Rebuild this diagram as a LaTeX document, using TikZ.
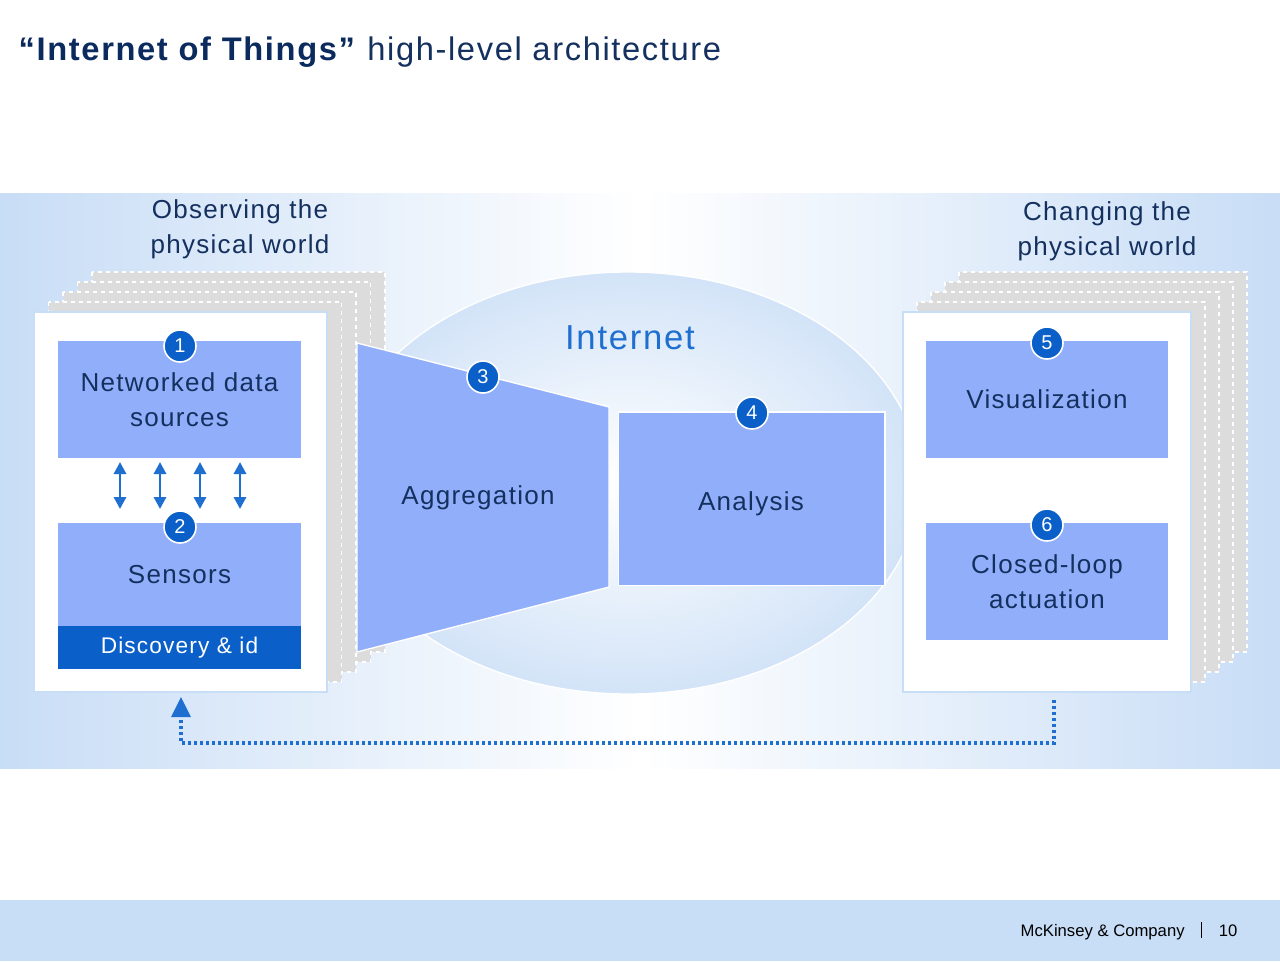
\documentclass[tikz,border=0pt]{standalone}
\usepackage{fontspec}
\setmainfont{Liberation Sans}[LetterSpace=5]
\newfontfamily\plainsans{Liberation Sans}
\usetikzlibrary{arrows.meta,shapes.geometric}
\definecolor{boxblue}{HTML}{91AEFB}
\definecolor{dkblue}{HTML}{0A5FC8}
\definecolor{midblue}{HTML}{1F6FD0}
\definecolor{txtblue}{HTML}{14305E}
\definecolor{bandblue}{HTML}{C8DDF6}
\definecolor{titleblue}{HTML}{0B2A5E}
\definecolor{pagegray}{HTML}{DCDCDC}
\begin{document}
\begin{tikzpicture}[x=0.75pt,y=-0.75pt,
  box/.style={fill=boxblue,draw=none,text=txtblue,align=center,font=\fontsize{19.5}{26}\selectfont},
  num/.style={circle,fill=dkblue,draw=white,line width=1.2pt,minimum size=24pt,inner sep=0pt,text=white,font=\plainsans\fontsize{15}{15}\selectfont},
  page/.style={fill=pagegray,draw=white,dashed,line width=1pt},
  front/.style={fill=white,draw=bandblue,line width=1pt},
  lbl/.style={text=txtblue,align=center,font=\fontsize{19.5}{26}\selectfont},
  darr/.style={{Triangle[length=9pt,width=9pt]}-{Triangle[length=9pt,width=9pt]},midblue,line width=2.2pt}]
\useasboundingbox (0,0) rectangle (1280,961);
\fill[white] (0,0) rectangle (1280,961);
% band
\shade[left color=bandblue,right color=bandblue,middle color=white] (0,193) rectangle (1280,768);
\fill[bandblue] (0,900) rectangle (1280,961);
% title
\node[anchor=west,font=\fontsize{24.5}{30}\selectfont] (title) at (14,52) {\textcolor{titleblue}{\textbf{“Internet of Things”}} \textcolor{txtblue}{high-level architecture}};
% footer
\node[anchor=east,font=\plainsans\fontsize{12.5}{14}\selectfont] (foot) at (1242,931) {McKinsey \& Company\quad\rule[-1pt]{0.6pt}{12pt}\quad 10};
% ellipse
\shade[inner color=white,outer color=bandblue!80] (628,483) ellipse [x radius=292,y radius=211];
\draw[white,line width=1pt] (628,483) ellipse [x radius=292,y radius=211];
\node[text=midblue,font=\fontsize{26}{30}\selectfont] (inet) at (630,338) {Internet};
% left stack
\foreach \i in {4,3,2,1} {
  \draw[page] ({34+14.5*\i},{312-10*\i}) rectangle ({327+14.5*\i},{692-10*\i});
}
\draw[front] (34,312) rectangle (327,692);
\node[box,minimum width=182pt,minimum height=88pt] (nds) at (179.5,399.5) {Networked data\\sources};
\node[box,minimum width=182pt,minimum height=77pt] (sens) at (179.5,574.5) {Sensors};
\node[fill=dkblue,text=white,minimum width=182pt,minimum height=32pt,font=\fontsize{17}{20}\selectfont] (disc) at (179.5,647.5) {Discovery \& id};
\node[num] (n1) at (180,346) {1};
\node[num] (n2) at (180,527) {2};
\foreach \x/\n in {120/a,160/b,200/c,240/d} {
  \coordinate (t\n) at (\x,462); \coordinate (b\n) at (\x,509);
  \draw[darr] (t\n) -- (b\n);
}
\node[lbl] (obs) at (240,229) {Observing the\\physical world};
% aggregation
\draw[fill=boxblue,draw=white,line width=1pt] (357,343) -- (609,407) -- (609,587) -- (357,652) -- cycle;
\node[lbl] (agg) at (478,498) {Aggregation};
\node[num] (n3) at (483,377) {3};
% analysis
\node[box,draw=white,line width=1pt,minimum width=200pt,minimum height=130pt] (ana) at (751.5,498.5) {};
\node[lbl] (anat) at (751,504) {Analysis};
\node[num] (n4) at (752,413) {4};
% right stack
\foreach \i in {4,3,2,1} {
  \draw[page] ({903+14*\i},{312-10*\i}) rectangle ({1191+14*\i},{692-10*\i});
}
\draw[front] (903,312) rectangle (1191,692);
\node[box,minimum width=181.5pt,minimum height=88pt] (vis) at (1047,399.5) {Visualization};
\node[box,minimum width=181.5pt,minimum height=88pt] (cla) at (1047,581.5) {Closed-loop\\actuation};
\node[num] (n5) at (1047,343) {5};
\node[num] (n6) at (1047,525) {6};
\node[lbl] (chg) at (1107,231) {Changing the\\physical world};
% feedback
\coordinate (fs) at (1054,700);
\coordinate (fe) at (181,697);
\draw[midblue,line width=2.5pt,dotted,line cap=butt] (fs) -- (1054,743) -- (181,743) -- (181,716);
\fill[midblue] (181,697) -- (171,717) -- (191,717) -- cycle;
\end{tikzpicture}
\end{document}
